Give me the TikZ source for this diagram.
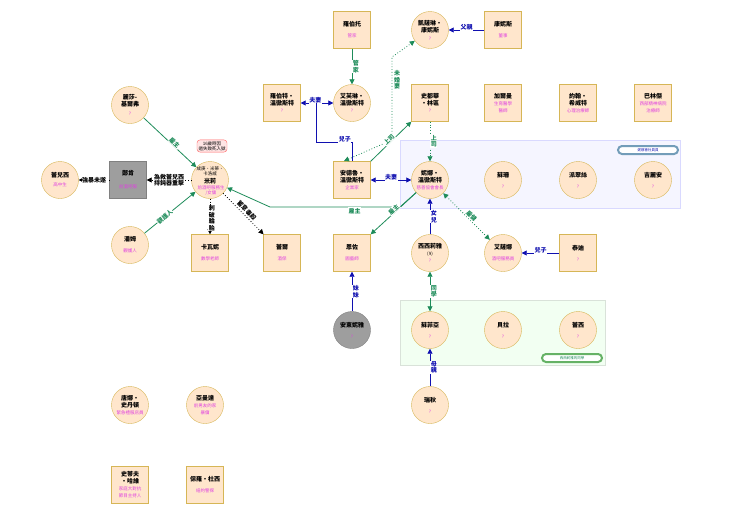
\documentclass[tikz,border=0pt]{standalone}
\usepackage{fontspec}
\newfontfamily\cjk{Noto Sans CJK TC}
\usetikzlibrary{arrows.meta,calc}
\definecolor{nfill}{HTML}{FFE6CC}
\definecolor{nline}{HTML}{D6B656}
\definecolor{pk}{HTML}{E040E0}
\definecolor{gr}{HTML}{1E8C5A}
\definecolor{bl}{HTML}{1010B0}
\newcommand{\pkt}[1]{{\color{pk}\fontsize{4.5}{5}\selectfont #1}}
\begin{document}
\begin{tikzpicture}[x=1pt,y=-1pt,font=\cjk\fontsize{6}{7}\selectfont,
 bx/.style={draw=nline,fill=nfill,minimum width=37pt,minimum height=37pt,inner sep=1pt,align=center},
 cr/.style={draw=nline,fill=nfill,circle,minimum size=37pt,inner sep=1pt,align=center},
 gray/.style={fill=black!38,draw=black!50},
 ge/.style={draw=gr,thick,-{Triangle[length=5pt,width=5pt]}},
 be/.style={draw=bl,thick,-{Triangle[length=5pt,width=5pt]}},
 de/.style={draw=black,thick,dotted,-{Triangle[length=5pt,width=5pt]}},
 gd/.style={draw=gr,thick,dotted,-{Triangle[length=5pt,width=5pt]}},
 gl/.style={text=gr,font=\cjk\fontsize{6}{6.5}\selectfont\bfseries,fill=white,inner sep=0.5pt},
 bll/.style={text=bl,font=\cjk\fontsize{6}{6.5}\selectfont\bfseries,fill=white,inner sep=0.5pt},
 kl/.style={text=black,font=\cjk\fontsize{6}{6.5}\selectfont\bfseries,fill=white,inner sep=0.5pt}]
\useasboundingbox (0,0) rectangle (740,517);
\fill[white] (0,0) rectangle (740,517);
% groups
\node[draw=blue!15,fill=blue!4,minimum width=280pt,minimum height=68pt,anchor=north west] (g1) at (400,140) {};
\node[draw=blue!40!cyan!50!black!55,fill=white,line width=2pt,rounded corners=4pt,minimum width=60pt,minimum height=8pt,inner sep=0pt,font=\cjk\fontsize{3.5}{4}\selectfont,text=bl] (g1l) at (648,150) {妮娜會社員員};
\node[draw=green!25!black!15,fill=green!5,minimum width=205pt,minimum height=65pt,anchor=north west] (g2) at (400,300) {};
\node[draw=green!50!black!60,fill=white,line width=2pt,rounded corners=4pt,minimum width=60pt,minimum height=8pt,inner sep=0pt,font=\cjk\fontsize{3.5}{4}\selectfont,text=gr] (g2l) at (572,358) {西西莉雅的同學};
% nodes
\node[cr] (lisa) at (130,105) {\textbf{麗莎-}\\\textbf{基爾弗}\\[2pt]\pkt{?}};
\node[cr] (milly) at (210,180) {};
\node[align=center,font=\cjk\fontsize{4.5}{5}\selectfont] at (210,171) {成庚·米蒂·\\卡洛威};
\node[font=\cjk\fontsize{6}{7}\selectfont\bfseries] at (210,181) {米莉};
\node[align=center,text=pk,font=\cjk\fontsize{4.5}{5}\selectfont] at (211,190) {前酒吧服務生\\/女傭};
\node[draw=red!60,fill=red!10,rounded corners=3pt,align=center,font=\cjk\fontsize{4.5}{5}\selectfont,inner sep=1.5pt] (call) at (212,146) {16歲時因\\過失致死入獄};
\node[bx,gray] (duncan) at (128,180) {\textbf{鄭肯}\\[6pt]\pkt{前酒吧服}};
\node[cr] (cc) at (60,180) {\textbf{蕾兒西}\\[2pt]\pkt{高中生}};
\node[cr] (pam) at (130,245) {\textbf{潘姆}\\[4pt]\pkt{觀護人}};
\node[bx] (kava) at (210,253) {\textbf{卡瓦妮}\\[4pt]\pkt{數學老師}};
\node[bx] (lei) at (282,253) {\textbf{蕾爾}\\[4pt]\pkt{酒保}};
\node[bx] (robt) at (352,30) {\textbf{羅伯托}\\[4pt]\pkt{管家}};
\node[cr] (kath) at (430,30) {\textbf{凱薩琳·}\\\textbf{康妮斯}\\[1pt]\pkt{?}};
\node[bx] (conn) at (503,30) {\textbf{康妮斯}\\[4pt]\pkt{董事}};
\node[bx] (robert) at (282,103) {\textbf{羅伯特·}\\\textbf{溫徹斯特}\\\pkt{?}};
\node[cr] (evelyn) at (352,103) {\textbf{艾芙琳·}\\\textbf{溫徹斯特}\\\pkt{?}};
\node[bx] (stu) at (430,103) {\textbf{史都華}\\\textbf{·林區}\\\pkt{?}};
\node[bx] (garm) at (503,103) {\textbf{加爾曼}\\\pkt{生育醫學}\\\pkt{醫師}};
\node[bx] (john) at (578,103) {\textbf{約翰·}\\\textbf{希威特}\\\pkt{心理治療師}};
\node[bx] (bal) at (653,103) {\textbf{巴林傑}\\\pkt{西部精神病院}\\\pkt{治療師}};
\node[bx] (andrew) at (352,180) {\textbf{安德魯·}\\\textbf{溫徹斯特}\\\pkt{企業家}};
\node[cr] (nina) at (430,180) {\textbf{妮娜·}\\\textbf{溫徹斯特}\\\pkt{慈善協會會長}};
\node[cr] (susan) at (503,180) {\textbf{蘇珊}\\[4pt]\pkt{?}};
\node[cr] (pat) at (578,180) {\textbf{派翠絲}\\[4pt]\pkt{?}};
\node[cr] (jill) at (653,180) {\textbf{吉麗安}\\[4pt]\pkt{?}};
\node[bx] (enzo) at (352,253) {\textbf{恩佐}\\[4pt]\pkt{園藝師}};
\node[cr] (cec) at (430,253) {\textbf{西西莉雅}\\{\fontsize{4.5}{5}\selectfont (9)}\\\pkt{?}};
\node[cr] (enna) at (503,253) {\textbf{艾薩娜}\\[4pt]\pkt{酒吧服務員}};
\node[bx] (teddy) at (578,253) {\textbf{泰迪}\\[4pt]\pkt{?}};
\node[cr,gray] (anto) at (352,330) {\textbf{安東妮雅}\\[4pt]\pkt{?}};
\node[cr] (sofia) at (430,330) {\textbf{蘇菲亞}\\[4pt]\pkt{?}};
\node[cr] (bella) at (503,330) {\textbf{貝拉}\\[4pt]\pkt{?}};
\node[cr] (lacy) at (578,330) {\textbf{蕾西}\\[4pt]\pkt{?}};
\node[cr] (rach) at (430,405) {\textbf{瑞秋}\\[4pt]\pkt{?}};
\node[cr] (donna) at (130,405) {\textbf{唐娜·}\\\textbf{史丹頓}\\\pkt{緊急禮服店員}};
\node[cr] (amanda) at (205,405) {\textbf{亞曼達}\\\pkt{前男友的家}\\\pkt{暴傭}};
\node[bx] (steve) at (130,485) {\textbf{史蒂夫}\\\textbf{·哈維}\\\pkt{家庭大對抗}\\\pkt{節目主持人}};
\node[bx] (paul) at (205,485) {\textbf{保羅·杜西}\\[4pt]\pkt{紐約警探}};
% edges
\draw[ge] (lisa) -- node[gl,sloped,above=-1pt,pos=0.55]{雇主} (milly);
\draw[ge] (pam) -- node[gl,sloped,pos=0.4]{觀護人} (milly);
\draw[de] (milly) -- node[kl,align=center]{為救蕾兒西\\持鈍器重擊} (duncan);
\draw[de] (duncan) -- node[kl]{強暴未遂} (cc);
\draw[de] (milly) -- node[kl,align=center,right=-2pt,pos=0.55]{刺\\破\\輪\\胎} (kava);
\draw[de] (milly) -- node[kl,sloped,above=1pt,pos=0.5]{蓄意毒殺} (lei);
\draw[ge] (nina) -- (400,207) -- node[gl,pos=0.35,below]{雇主} (270,207) -- (milly);
\draw[ge] (robt) -- node[gl,right,align=center]{管\\家} (evelyn);
\draw[draw=bl,thick,{Triangle[length=5pt,width=5pt]}-{Triangle[length=5pt,width=5pt]}] (robert) -- node[bll,above=-1pt,pos=0.45]{夫妻} (evelyn);
\coordinate (j1) at (316,103);
\draw[bl,thick] (andrew.north) -- (352,142) -- node[bll,pos=0.2,above=-1pt]{兒子} (316,142) -- (j1);
\coordinate (a1) at (344,161);
\draw[gd,{Triangle[length=5pt,width=5pt]}-{Triangle[length=5pt,width=5pt]}] (a1) -- (392,140) -- (392,57) -- (kath);
\node[gl,align=center] at (397,80) {未\\婚\\妻};
\draw[ge] (andrew.north east) -- node[gl,sloped,above=-1pt]{上司} (stu.south west);
\draw[gd] (stu) -- node[gl,right,align=center]{上\\司} (nina);
\draw[draw=bl,thick,{Triangle[length=5pt,width=5pt]}-{Triangle[length=5pt,width=5pt]}] (andrew) -- node[bll,above=-1pt]{夫妻} (nina);
\draw[be] (conn) -- node[bll,above=-1pt]{父親} (kath);
\draw[ge] (nina) -- node[gl,sloped,above=-1pt,pos=0.45]{雇主} (enzo.north east);
\draw[be] (cec) -- node[bll,right,align=center]{女\\兒} (nina);
\draw[gd,{Triangle[length=5pt,width=5pt]}-{Triangle[length=5pt,width=5pt]}] (nina) -- node[gl,sloped,above=0pt,pos=0.55]{雇傭} (enna);
\draw[be] (teddy) -- node[bll,above=-1pt]{兒子} (enna);
\draw[be] (anto) -- node[bll,right,align=center]{妹\\妹} (enzo);
\draw[draw=gr,thick,{Triangle[length=5pt,width=5pt]}-{Triangle[length=5pt,width=5pt]}] (cec) -- node[gl,right,align=center]{同\\學} (sofia);
\draw[be] (rach) -- node[bll,right,align=center]{母\\親} (sofia);
\end{tikzpicture}
\end{document}
